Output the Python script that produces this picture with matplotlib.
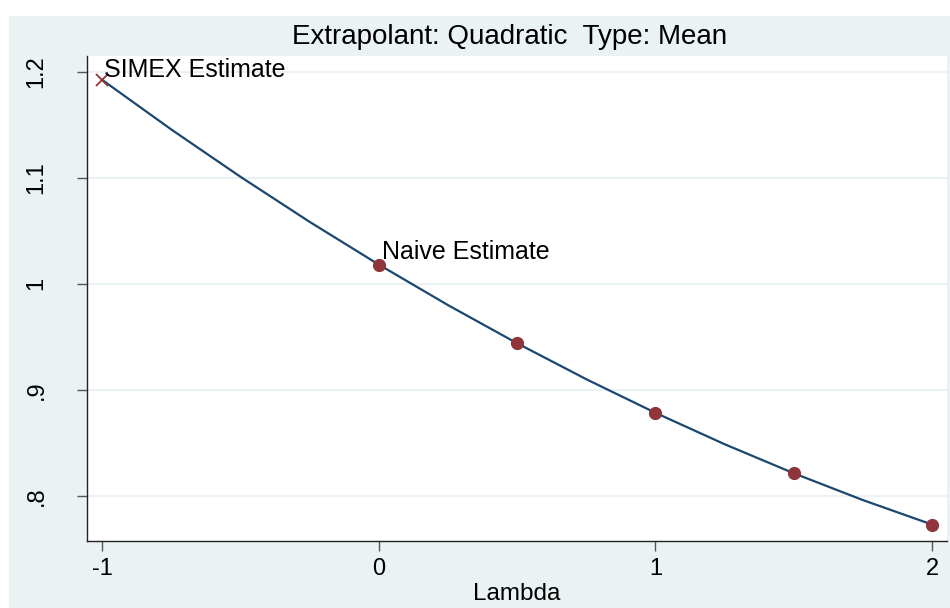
import matplotlib.pyplot as plt
from matplotlib.patches import Rectangle

plt.rcParams['font.family'] = ['Liberation Sans', 'DejaVu Sans']

# simulated points (lambda, mean estimate)
lam_pts = [0.0, 0.5, 1.0, 1.5, 2.0]
est_pts = [1.018, 0.944, 0.878, 0.821, 0.7725]

# extrapolated SIMEX estimate
simex_lam = -1.0
simex_est = 1.1922

# quadratic extrapolant
lam_curve = [-1.0, -0.75, -0.5, -0.25, 0.0, 0.25, 0.5, 0.75, 1.0, 1.25, 1.5, 1.75, 2.0]
est_curve = [1.1922, 1.1454, 1.1008, 1.0583, 1.0180, 0.9798, 0.9438, 0.9099,
             0.8782, 0.8486, 0.8212, 0.7959, 0.7728]

xticks = [-1, 0, 1, 2]
yticks = [0.8, 0.9, 1.0, 1.1, 1.2]
ytick_labels = ['.8', '.9', '1', '1.1', '1.2']

bg = '#eaf2f3'
line_col = '#1a476f'
mark_col = '#90353b'

fig = plt.figure(figsize=(9.5, 6.08), dpi=100)
fig.patch.set_facecolor('white')
fig.patches.append(Rectangle((9 / 950, 0), 1, 1 - 16 / 608, transform=fig.transFigure,
                             facecolor=bg, edgecolor='none', zorder=-10))

ax = fig.add_axes([86.5 / 950, 1 - 541 / 608, (947 - 86.5) / 950, (541 - 56) / 608])
ax.set_zorder(1)
ax.set_facecolor('white')

ax.plot(lam_curve, est_curve, color=line_col, lw=1.6, zorder=2)
ax.plot(lam_pts, est_pts, 'o', color=mark_col, ms=8.5, zorder=3)
ax.plot([simex_lam], [simex_est], 'x', color=mark_col, ms=8, mew=1.3, zorder=3)

ax.annotate('SIMEX Estimate', (simex_lam, simex_est), xytext=(1.5, 7), textcoords='offset points',
            va='center', ha='left', fontsize=18)
ax.annotate('Naive Estimate', (lam_pts[0], est_pts[0]), xytext=(2.5, 9), textcoords='offset points',
            va='center', ha='left', fontsize=18)

ax.set_xlim(-1.057, 2.054)
ax.set_ylim(0.7573, 1.2148)
ax.set_xticks(xticks)
ax.set_xticklabels([str(t) for t in xticks])
ax.set_yticks(yticks)
ax.set_yticklabels(ytick_labels, rotation=90, va='center')
ax.tick_params(axis='both', length=7, width=1, color='#555555', labelsize=17)
ax.tick_params(axis='x', pad=5)
ax.tick_params(axis='y', pad=21)
ax.yaxis.grid(True, color=bg, lw=1.5)
ax.set_axisbelow(True)

for s in ['top', 'right']:
    ax.spines[s].set_visible(False)
for s in ['left', 'bottom']:
    ax.spines[s].set_color('#222222')
    ax.spines[s].set_linewidth(1.0)

ax.set_xlabel('Lambda', fontsize=17.5, labelpad=2.5)
fig.text(510 / 950, 1 - 37 / 608, 'Extrapolant: Quadratic  Type: Mean', ha='center', va='center', fontsize=20)

fig.savefig('out.png', dpi=100, facecolor=fig.get_facecolor())
